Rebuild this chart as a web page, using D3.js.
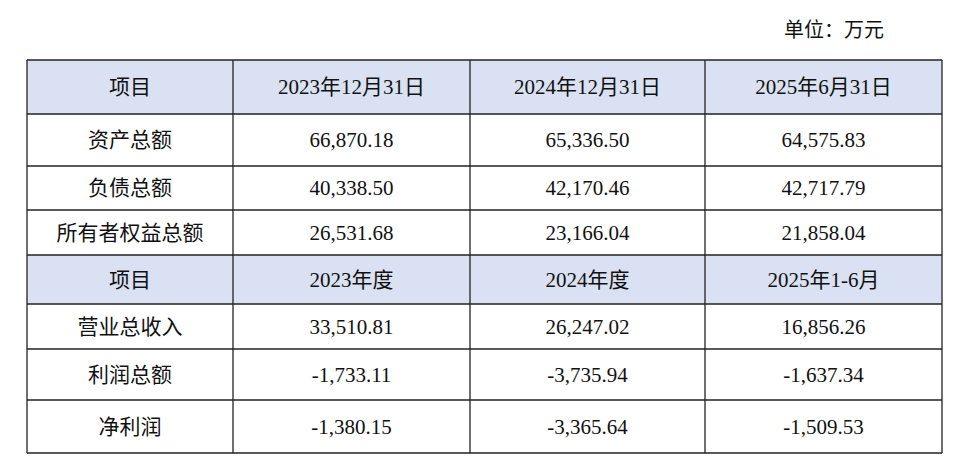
<!DOCTYPE html>
<html><head><meta charset="utf-8">
<script src="https://cdn.jsdelivr.net/npm/d3@7"></script>
<style>body{margin:0;background:#fff}</style>
</head><body>
<div id="chart"></div>
<script>
// table contents
var headerRow1 = ["项目", "2023年12月31日", "2024年12月31日", "2025年6月31日"];
var headerRow2 = ["项目", "2023年度", "2024年度", "2025年1-6月"];
var balanceItems = ["资产总额", "负债总额", "所有者权益总额"];
var balanceValues = [
    ["66,870.18", "65,336.50", "64,575.83"],
    ["40,338.50", "42,170.46", "42,717.79"],
    ["26,531.68", "23,166.04", "21,858.04"]
];
var incomeItems = ["营业总收入", "利润总额", "净利润"];
var incomeValues = [
    ["33,510.81", "26,247.02", "16,856.26"],
    ["-1,733.11", "-3,735.94", "-1,637.34"],
    ["-1,380.15", "-3,365.64", "-1,509.53"]
];

var rows = [{cells: headerRow1, header: true}];
balanceItems.forEach(function(d, i) { rows.push({cells: [d].concat(balanceValues[i]), header: false}); });
rows.push({cells: headerRow2, header: true});
incomeItems.forEach(function(d, i) { rows.push({cells: [d].concat(incomeValues[i]), header: false}); });

var colEdges = [27, 233, 470, 705, 942];
var rowEdges = [60, 114, 166, 210, 255, 304, 349, 400, 453];
var font = "'Liberation Serif', 'Times New Roman', 'Noto Sans CJK SC', serif";

var svg = d3.select("#chart").append("svg").attr("width", 971).attr("height", 470);

svg.append("text").attr("x", 884).attr("y", 37).attr("text-anchor", "end")
    .style("font-family", font).style("font-size", "20px").attr("fill", "#111").text("单位：万元");

var g = svg.selectAll(".row").data(rows).enter().append("g").attr("class", "row");

g.append("rect")
    .attr("x", colEdges[0]).attr("width", colEdges[4] - colEdges[0])
    .attr("y", function(d, i) { return rowEdges[i]; })
    .attr("height", function(d, i) { return rowEdges[i + 1] - rowEdges[i]; })
    .attr("fill", function(d) { return d.header ? "#d9e1f2" : "#fff"; });

g.each(function(d, i) {
    d3.select(this).selectAll("text").data(d.cells).enter().append("text")
        .attr("x", function(c, j) { return (colEdges[j] + colEdges[j + 1]) / 2; })
        .attr("y", (rowEdges[i] + rowEdges[i + 1]) / 2 + 7)
        .attr("text-anchor", "middle")
        .style("font-family", font).style("font-size", "21px")
        .attr("fill", "#111")
        .text(function(c) { return c; });
});

// grid lines
svg.selectAll(".hline").data(rowEdges).enter().append("line")
    .attr("x1", colEdges[0]).attr("x2", colEdges[4])
    .attr("y1", function(d) { return d; }).attr("y2", function(d) { return d; })
    .attr("stroke", "#222").attr("stroke-width", 1.3);
svg.selectAll(".vline").data(colEdges).enter().append("line")
    .attr("y1", rowEdges[0]).attr("y2", rowEdges[rowEdges.length - 1])
    .attr("x1", function(d) { return d; }).attr("x2", function(d) { return d; })
    .attr("stroke", "#222").attr("stroke-width", 1.3);
</script>
</body></html>
